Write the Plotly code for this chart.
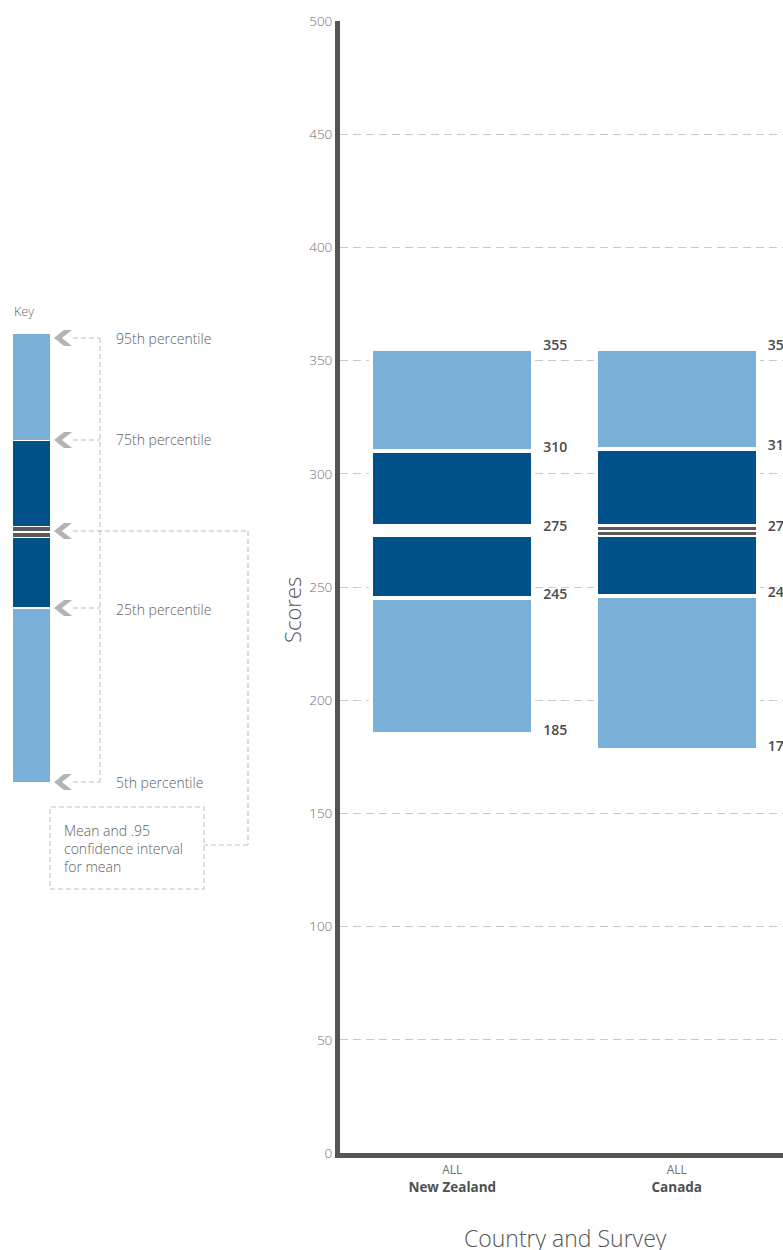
import plotly.graph_objects as go

# ---- data -------------------------------------------------------------
countries = ["New Zealand", "Canada"]
surveys = ["ALL", "ALL"]
p5 = [185, 178]
p25 = [245, 246]
mean = [275, 275]
p75 = [310, 311]
p95 = [355, 355]
ci_low = [None, 273.7]
ci_high = [None, 275.9]

# ---- styling ----------------------------------------------------------
LIGHT = "#7aafd8"
DARK = "#00508a"
CI_GREY = "#5b5b5b"
AXIS = "#555555"
GRID = "#c9c9c9"
TXT = "#5e5e5e"
FONT = "Open Sans"

W, H = 783, 1250
PL, PR, PT, PB = 340, 783, 21, 1153
CAT_PX = 224.5                      # pixels per category
X0 = -0.5
X1 = X0 + (PR - PL) / CAT_PX
BAR_W = 162 / CAT_PX
SEP = 4                             # white separator between segments (px)
BAND_HALF = 2.9                     # half height of the mean band (score units)
CI_THICK = 1.3

xs = list(range(len(countries)))


def seg(base, top, color, width=BAR_W, line=SEP):
    b, h = [], []
    for lo, hi in zip(base, top):
        if lo is None or hi is None:
            b.append(None)
            h.append(None)
        else:
            b.append(lo)
            h.append(hi - lo)
    return go.Bar(x=xs, y=h, base=b, width=width, marker=dict(
        color=color, line=dict(color="white", width=line)),
        hoverinfo="skip", showlegend=False)


fig = go.Figure()
fig.add_trace(seg(p5, p25, LIGHT))
fig.add_trace(seg(p25, p75, DARK))
fig.add_trace(seg(p75, p95, LIGHT))
fig.add_trace(seg([m - BAND_HALF for m in mean],
                  [m + BAND_HALF for m in mean], "white", line=0))
inner_w = BAR_W - SEP / CAT_PX
fig.add_trace(seg([c - CI_THICK / 2 if c else None for c in ci_low],
                  [c + CI_THICK / 2 if c else None for c in ci_low],
                  CI_GREY, width=inner_w, line=0))
fig.add_trace(seg([c - CI_THICK / 2 if c else None for c in ci_high],
                  [c + CI_THICK / 2 if c else None for c in ci_high],
                  CI_GREY, width=inner_w, line=0))

# value labels to the right of each bar
lab_x, lab_y, lab_t = [], [], []
for i in xs:
    for v in (p95[i], p75[i], mean[i], p25[i], p5[i]):
        lab_x.append(i + BAR_W / 2 + 0.045)
        lab_y.append(v + 1.2)
        lab_t.append(str(v))
fig.add_trace(go.Scatter(x=lab_x, y=lab_y, text=lab_t, mode="text",
                         textposition="middle right",
                         textfont=dict(family=FONT, size=14, color="#4a4a4a",
                                       weight=600),
                         hoverinfo="skip", showlegend=False))

ticktext = [f"<span style='font-size:12px;color:#707070'>{s}</span><br>"
            f"<b>{c}</b>" for s, c in zip(surveys, countries)]

fig.update_layout(
    width=W, height=H,
    margin=dict(l=PL, r=W - PR, t=PT, b=H - PB),
    plot_bgcolor="white", paper_bgcolor="white",
    barmode="overlay", bargap=0,
    font=dict(family=FONT, color=TXT),
    xaxis=dict(range=[X0, X1], tickvals=xs, ticktext=ticktext,
               showgrid=False, zeroline=False, showline=True,
               linecolor=AXIS, linewidth=5, ticks="",
               tickfont=dict(size=13.5, color="#505050"), fixedrange=True),
    yaxis=dict(range=[0, 500], tick0=0, dtick=50, showgrid=True,
               gridcolor=GRID, griddash="8px,5px", gridwidth=1,
               zeroline=False, showline=True, linecolor=AXIS, linewidth=5,
               ticks="", tickfont=dict(size=13.5, color="#707070", weight=300),
               fixedrange=True),
)


# ---- key (drawn in paper space, outside the plot) ---------------------
def fx(px):
    return (px - PL) / (PR - PL)


def fy(py):
    return (PB - py) / (PB - PT)


shapes = []
for y0, y1, col in [(334, 440, LIGHT), (441, 526, DARK), (527, 531, CI_GREY),
                    (533, 537, CI_GREY), (538, 607, DARK), (609, 782, LIGHT)]:
    shapes.append(dict(type="rect", xref="paper", yref="paper",
                       x0=fx(13), x1=fx(50), y0=fy(y1), y1=fy(y0),
                       fillcolor=col, line=dict(width=0), layer="above"))

key_levels = [338, 440, 531, 608, 782]
for y in key_levels:
    pts = [(54, y), (64, y - 8), (72, y - 8), (62, y), (72, y + 8), (64, y + 8)]
    path = "M " + " L ".join(f"{fx(a):.5f},{fy(b):.5f}" for a, b in pts) + " Z"
    shapes.append(dict(type="path", xref="paper", yref="paper", path=path,
                       fillcolor="#b3b3b3", line=dict(width=0)))

dash = dict(color="#bdbdbd", width=1, dash="5px,3px")


def line(xa, ya, xb, yb):
    shapes.append(dict(type="line", xref="paper", yref="paper",
                       x0=fx(xa), y0=fy(ya), x1=fx(xb), y1=fy(yb), line=dash))


for y in [338, 440, 608, 782]:
    line(73, y, 100, y)
line(100, 338, 100, 782)
line(73, 531, 248, 531)
line(248, 531, 248, 845)
line(248, 845, 204, 845)
shapes.append(dict(type="rect", xref="paper", yref="paper",
                   x0=fx(50), x1=fx(204), y0=fy(889), y1=fy(807), line=dash))

annotations = []


def note(px, py, text, size=14, anchor="left", color=TXT, **kw):
    annotations.append(dict(x=fx(px), y=fy(py), xref="paper", yref="paper",
                            text=text, showarrow=False, xanchor=anchor,
                            yanchor="middle",
                            font=dict(family=FONT, size=size, color=color,
                                      weight=300), **kw))


note(12, 311, "Key", size=12.5)
note(114, 338, "95th percentile")
note(114, 440, "75th percentile")
note(114, 609, "25th percentile")
note(114, 782, "5th percentile")
note(62, 848, "Mean and .95<br>confidence interval<br>for mean", align="left")

# axis titles
note(292, 610, "Scores", size=22, anchor="center", color="#555", textangle=-90)
note(565, 1238, "Country and Survey", size=23, anchor="center", color="#555")

fig.update_layout(shapes=shapes, annotations=annotations)

fig.write_html("out.html")
